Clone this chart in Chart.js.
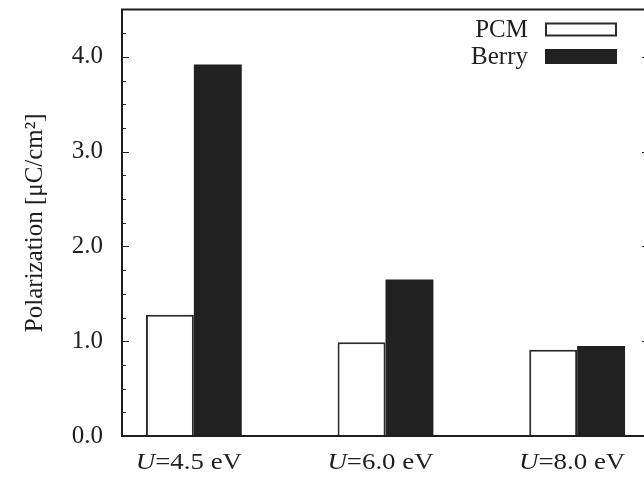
<!DOCTYPE html>
<html><head><meta charset="utf-8">
<script src="https://cdn.jsdelivr.net/npm/chart.js@4/dist/chart.umd.min.js"></script>
<style>
html,body{margin:0;padding:0;background:#fff;overflow:hidden;}
#wrap{position:relative;width:660px;height:479px;}
</style></head>
<body><div id="wrap"><canvas id="c"></canvas></div>
<script>
// ---- data ----
const categories = ['U=4.5 eV', 'U=6.0 eV', 'U=8.0 eV'];
const seriesNames = ['PCM', 'Berry'];
const pcmValues = [1.28, 0.99, 0.91];
const berryValues = [3.92, 1.65, 0.95];
const yMajorTicks = [0, 1, 2, 3, 4];
const yMinorTicks = [0.25, 0.5, 0.75, 1.25, 1.5, 1.75, 2.25, 2.5, 2.75, 3.25, 3.5, 3.75, 4.25];
const yTitle = 'Polarization [μC/cm²]';

const SERIF = "'Liberation Serif', 'Times New Roman', serif";
const FS = 25;
const XFS = 24;
const INK = '#1e1e1e';

const framePlugin = {
  id: 'frame',
  afterDraw(chart) {
    const ctx = chart.ctx;
    const {left, right, top, bottom} = chart.chartArea;
    const xs = chart.scales.x, ys = chart.scales.y;
    ctx.save();
    ctx.strokeStyle = INK;
    ctx.lineWidth = 2;
    ctx.strokeRect(left, top, right - left, bottom - top);
    ctx.lineWidth = 1;
    const tick = (v, len) => {
      const py = Math.round(ys.getPixelForValue(v)) + 0.5;
      ctx.beginPath();
      ctx.moveTo(left, py); ctx.lineTo(left + len, py);
      ctx.moveTo(right, py); ctx.lineTo(right - len, py);
      ctx.stroke();
    };
    yMajorTicks.forEach(v => tick(v, 7));
    yMinorTicks.forEach(v => tick(v, 4));
    // x category labels: italic variable name, then the rest (slightly wide face)
    ctx.fillStyle = INK;
    ctx.textBaseline = 'alphabetic';
    ctx.textAlign = 'left';
    const sx = 1.12;
    categories.forEach((lab, i) => {
      const head = lab.slice(0, 1), tail = lab.slice(1);
      ctx.font = 'italic ' + XFS + 'px ' + SERIF;
      const w1 = ctx.measureText(head).width;
      ctx.font = XFS + 'px ' + SERIF;
      const w2 = ctx.measureText(tail).width;
      const cx = xs.getPixelForValue(i) - 5;
      const x0 = cx - sx * (w1 + w2) / 2;
      ctx.save();
      ctx.translate(x0, 468.5);
      ctx.scale(sx, 1);
      ctx.font = 'italic ' + XFS + 'px ' + SERIF;
      ctx.fillText(head, 0, 0);
      ctx.font = XFS + 'px ' + SERIF;
      ctx.fillText(tail, w1, 0);
      ctx.restore();
    });
    // legend (text left of a wide sample box)
    const ds = chart.data.datasets;
    ctx.font = FS + 'px ' + SERIF;
    ctx.textAlign = 'right';
    ctx.textBaseline = 'middle';
    ds.forEach((d, i) => {
      const cy = 29.5 + i * 27;
      ctx.fillStyle = INK;
      ctx.fillText(d.label, 528, cy + 1);
      if (d.borderWidth > 0) {
        ctx.fillStyle = d.backgroundColor;
        ctx.fillRect(545, cy - 6.5, 72, 13);
        ctx.strokeStyle = d.borderColor;
        ctx.lineWidth = 2;
        ctx.strokeRect(546, cy - 6, 70, 12);
      } else {
        ctx.fillStyle = d.backgroundColor;
        ctx.fillRect(545, cy - 7.5, 72, 15);
      }
    });
    ctx.restore();
  }
};

new Chart(document.getElementById('c'), {
  type: 'bar',
  data: {
    datasets: [
      {label: seriesNames[0], data: pcmValues.map((v, i) => ({x: i, y: v})),
       backgroundColor: '#ffffff', borderColor: '#2a2a2a', borderWidth: 2},
      {label: seriesNames[1], data: berryValues.map((v, i) => ({x: i, y: v})),
       backgroundColor: '#212121', borderColor: '#212121', borderWidth: 0}
    ]
  },
  options: {
    responsive: true,
    maintainAspectRatio: false,
    animation: false,
    devicePixelRatio: 1,
    categoryPercentage: 0.5,
    barPercentage: 1.0,
    layout: {padding: {left: 0, top: 9.5, right: 11, bottom: 0}},
    plugins: {legend: {display: false}, tooltip: {enabled: false}},
    scales: {
      x: {
        type: 'linear', min: -0.375, max: 2.375, offset: false,
        grid: {display: false, drawTicks: false, offset: false}, border: {display: false},
        ticks: {display: false, stepSize: 1, includeBounds: false},
        afterFit: s => { s.height = 43; s.paddingLeft = 0; s.paddingRight = 0; }
      },
      y: {
        min: 0, max: 4.5,
        grid: {display: false, drawTicks: false, tickLength: 0}, border: {display: false},
        ticks: {
          stepSize: 1, includeBounds: false, padding: 19, color: INK,
          font: {family: SERIF, size: FS},
          callback: v => Number(v).toFixed(1)
        },
        title: {display: true, text: yTitle, color: INK,
                font: {family: SERIF, size: FS}, padding: {top: 20, bottom: 0}},
        afterFit: s => { s.width = 122; s.paddingTop = 0; s.paddingBottom = 0; }
      }
    }
  },
  plugins: [framePlugin]
});
</script>
</body></html>
